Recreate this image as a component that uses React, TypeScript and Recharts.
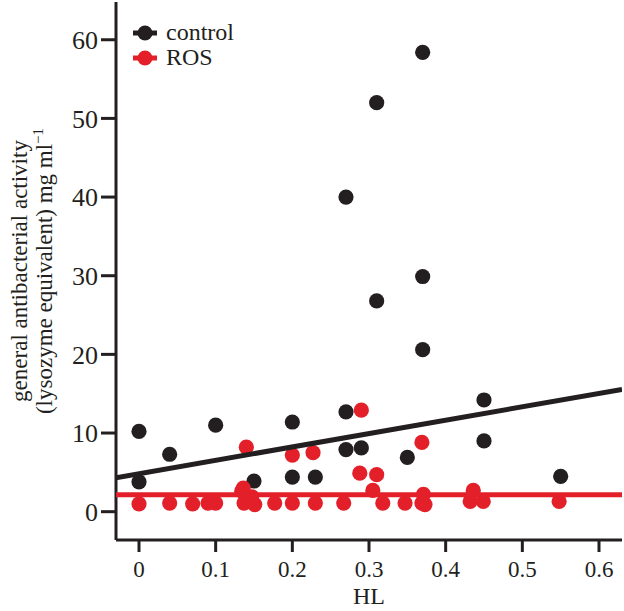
import React from 'react';
import { ScatterChart, Scatter, XAxis, YAxis, Legend } from 'recharts';

// values
const hlControl = [0, 0, 0.04, 0.1, 0.15, 0.2, 0.2, 0.23, 0.27, 0.27, 0.27, 0.29, 0.31, 0.31, 0.35, 0.37, 0.37, 0.37, 0.45, 0.45, 0.55];
const actControl = [10.2, 3.8, 7.3, 11, 3.9, 11.4, 4.4, 4.4, 40, 12.7, 7.9, 8.1, 52, 26.8, 6.9, 58.4, 29.9, 20.6, 14.2, 9.0, 4.5];

const hlRos = [0, 0.04, 0.07, 0.09, 0.1, 0.134, 0.136, 0.137, 0.147, 0.151, 0.14, 0.177, 0.2, 0.2, 0.227, 0.23, 0.267, 0.288, 0.29, 0.305, 0.31, 0.318, 0.347, 0.369, 0.371, 0.373, 0.369, 0.432, 0.436, 0.449, 0.548];
const actRos = [1.0, 1.1, 1.0, 1.1, 1.1, 2.6, 3.0, 1.1, 1.9, 0.9, 8.2, 1.1, 1.1, 7.2, 7.5, 1.1, 1.1, 4.9, 12.9, 2.7, 4.7, 1.1, 1.1, 1.1, 2.2, 0.9, 8.8, 1.3, 2.7, 1.3, 1.3];

// fitted lines (intercept, slope)
const fitControl = [4.83, 17];
const fitRos = [2.15, 0];

const xTicks = [0, 0.1, 0.2, 0.3, 0.4, 0.5, 0.6];
const yTicks = [0, 10, 20, 30, 40, 50, 60];
const xDomain = [-0.03, 0.63];
const yDomain = [-3.6, 64.8];

const BLACK = '#231f20';
const RED = '#e3202a';
const FONT = '"Liberation Serif", "Times New Roman", serif';

const controlData = hlControl.map((x, i) => ({ x, y: actControl[i] }));
const rosData = hlRos.map((x, i) => ({ x, y: actRos[i] }));
const fitLine = (f: number[]) => xDomain.map((x) => ({ x, y: f[0] + f[1] * x }));

const Dot = (props: any) => <circle cx={props.cx} cy={props.cy} r={7.6} fill={props.fill} />;
const NoDot = () => <g />;

const YTitle = (props: any) => {
  const cx = 31;
  const cy = props.viewBox ? props.viewBox.y + props.viewBox.height / 2 : 271;
  return (
    <text transform={`rotate(-90, ${cx}, ${cy})`} x={cx} y={cy} textAnchor="middle" fontFamily={FONT} fontSize={23} fill={BLACK}>
      <tspan x={cx} dy={-4}>general antibacterial activity</tspan>
      <tspan x={cx} dy={25}>(lysozyme equivalent) mg ml</tspan>
      <tspan dy={-9} fontSize={15}>−1</tspan>
    </text>
  );
};

const LegendBox = () => (
  <div style={{ fontFamily: FONT, fontSize: 24, color: BLACK, lineHeight: '25px' }}>
    {[{ name: 'control', c: BLACK }, { name: 'ROS', c: RED }].map((e) => (
      <div key={e.name} style={{ display: 'flex', alignItems: 'center', height: 25 }}>
        <svg width={30} height={20} style={{ marginRight: 5 }}>
          <line x1={2} x2={26} y1={10} y2={10} stroke={e.c} strokeWidth={5} />
          <circle cx={14} cy={10} r={7.5} fill={e.c} />
        </svg>
        <span>{e.name}</span>
      </div>
    ))}
  </div>
);

export default function App() {
  return (
    <div style={{ position: 'absolute', left: 0, top: 0, background: '#fff' }}>
      <ScatterChart width={624} height={611} margin={{ top: 2, right: 2, left: 0, bottom: 0 }}>
        <XAxis
          type="number"
          dataKey="x"
          domain={xDomain}
          ticks={xTicks}
          allowDataOverflow
          height={71}
          stroke={BLACK}
          strokeWidth={3}
          tickSize={12}
          tickMargin={9}
          tick={{ fontFamily: FONT, fontSize: 23, fill: BLACK }}
          tickFormatter={(v: number) => String(v)}
          label={{ value: 'HL', position: 'insideBottom', offset: 7, fontFamily: FONT, fontSize: 24, fill: BLACK }}
        />
        <XAxis xAxisId="top" orientation="top" type="number" dataKey="x" domain={xDomain} allowDataOverflow height={0} tick={false} tickLine={false} stroke={BLACK} strokeWidth={3} />
        <YAxis
          type="number"
          dataKey="y"
          domain={yDomain}
          ticks={yTicks}
          allowDataOverflow
          width={116}
          stroke={BLACK}
          strokeWidth={3}
          tickSize={15}
          tickMargin={3}
          tick={{ fontFamily: FONT, fontSize: 26, fill: BLACK }}
          label={<YTitle />}
        />
        <YAxis yAxisId="right" orientation="right" type="number" dataKey="y" domain={yDomain} allowDataOverflow width={0} tick={false} tickLine={false} stroke={BLACK} strokeWidth={3} />
        <Legend
          content={<LegendBox />}
          layout="vertical"
          align="center"
          verticalAlign="middle"
          wrapperStyle={{ top: 20, left: 131, width: 'auto' }}
        />
        <Scatter name="control" data={controlData} fill={BLACK} shape={<Dot />} isAnimationActive={false} />
        <Scatter name="ROS" data={rosData} fill={RED} shape={<Dot />} isAnimationActive={false} />
        <Scatter name="control fit" data={fitLine(fitControl)} fill="none" line={{ stroke: BLACK, strokeWidth: 5 }} shape={<NoDot />} legendType="none" isAnimationActive={false} />
        <Scatter name="ROS fit" data={fitLine(fitRos)} fill="none" line={{ stroke: RED, strokeWidth: 5 }} shape={<NoDot />} legendType="none" isAnimationActive={false} />
      </ScatterChart>
    </div>
  );
}
